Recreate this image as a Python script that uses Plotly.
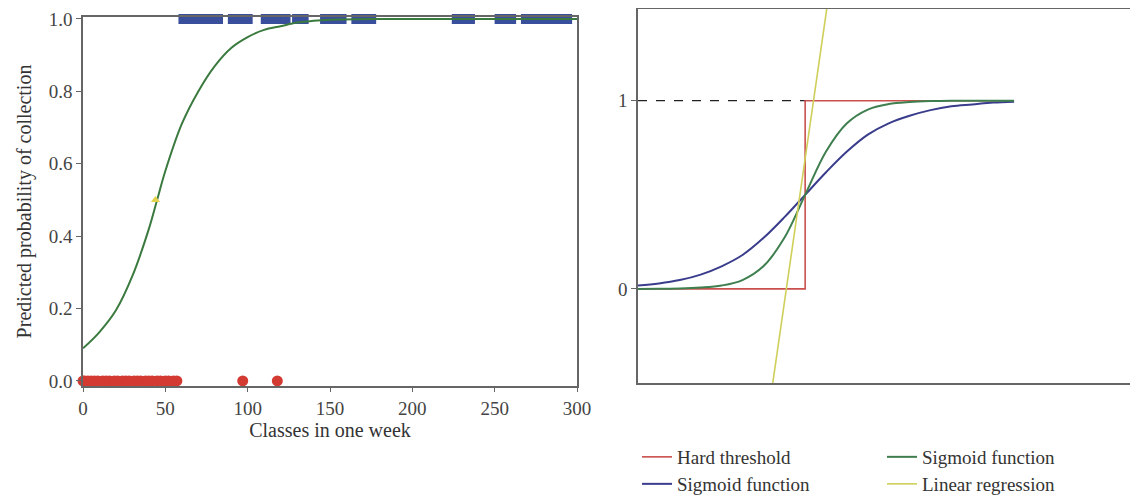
import plotly.graph_objects as go

# ---------------- Left panel data ----------------
curve_x = [0, 10, 20, 30, 40, 45, 50, 60, 70, 80, 90, 100, 110, 120, 130, 140, 150, 175, 200, 250, 300]
curve_y = [0.09, 0.135, 0.195, 0.29, 0.42, 0.50, 0.58, 0.71, 0.80, 0.87, 0.92, 0.95, 0.97, 0.98, 0.99, 0.995, 0.998, 1.0, 1.0, 1.0, 1.0]

collected_x = [61, 64, 67, 70, 73, 76, 79, 82, 91, 94, 97, 100, 111, 114, 117, 120, 123,
               130, 134, 147, 150, 153, 157, 166, 169, 172, 175, 227, 231, 235,
               253, 256, 260, 269, 272, 276, 280, 284, 288, 291, 294]
collected_y = [1.0] * len(collected_x)

missed_x = [0, 1, 3, 5, 7, 9, 12, 14, 16, 19, 21, 24, 26, 28, 31, 33, 35, 38, 40, 42,
            45, 47, 50, 52, 55, 57, 97, 118]
missed_y = [0.0] * len(missed_x)

mid_x = [44]
mid_y = [0.5]

left_xticks = [0, 50, 100, 150, 200, 250, 300]
left_yticks = [0.0, 0.2, 0.4, 0.6, 0.8, 1.0]

# ---------------- Right panel data ----------------
fx = [-8, -7, -6, -5, -4, -3, -2, -1, 0, 1, 2, 3, 4, 5, 6, 7, 8, 9, 10]
sig_wide = [0.018, 0.029, 0.047, 0.076, 0.12, 0.18, 0.27, 0.38, 0.5, 0.62, 0.73, 0.82, 0.88, 0.92, 0.95, 0.97, 0.98, 0.99, 0.995]
sig_steep = [0.0, 0.001, 0.002, 0.007, 0.018, 0.047, 0.12, 0.27, 0.5, 0.73, 0.88, 0.953, 0.982, 0.993, 0.998, 1.0, 1.0, 1.0, 1.0]
hard_x = [-8, 0, 0, 10]
hard_y = [0, 0, 1, 1]
dash_x = [-8, 0]
dash_y = [1, 1]
lin_x = [-1.55, 1.05]
lin_y = [-0.5, 1.5]
right_yticks = [0, 1]

FONT = "Liberation Serif"
C_GREEN = "#3b7a3f"
C_BLUE_SQ = "#3a4f9c"
C_RED = "#d23a32"
C_YEL = "#e3d34a"
C_HARD = "#c9504c"
C_NAVY = "#3a3d8c"
C_GREEN2 = "#3f7f4f"
C_LIN = "#cfcf5a"
AX = "#666666"
TICKFONT = dict(family=FONT, size=19, color="#444444")

fig = go.Figure()

fig.add_trace(go.Scatter(x=collected_x, y=collected_y, mode="markers",
                         marker=dict(symbol="square", size=10, color=C_BLUE_SQ, line=dict(width=0)),
                         cliponaxis=False, showlegend=False, xaxis="x", yaxis="y"))
fig.add_trace(go.Scatter(x=curve_x, y=curve_y, mode="lines",
                         line=dict(color=C_GREEN, width=2, shape="spline"),
                         showlegend=False, xaxis="x", yaxis="y"))
fig.add_trace(go.Scatter(x=missed_x, y=missed_y, mode="markers",
                         marker=dict(symbol="circle", size=11, color=C_RED, line=dict(width=0)),
                         cliponaxis=False, showlegend=False, xaxis="x", yaxis="y"))
fig.add_trace(go.Scatter(x=mid_x, y=mid_y, mode="markers",
                         marker=dict(symbol="triangle-up", size=8, color=C_YEL, line=dict(width=0)),
                         showlegend=False, xaxis="x", yaxis="y"))

# right panel
fig.add_trace(go.Scatter(x=dash_x, y=dash_y, mode="lines",
                         line=dict(color="#222222", width=1.3, dash="dash"),
                         showlegend=False, xaxis="x2", yaxis="y2"))
fig.add_trace(go.Scatter(x=hard_x, y=hard_y, mode="lines", name="Hard threshold",
                         line=dict(color=C_HARD, width=1.6), legend="legend",
                         xaxis="x2", yaxis="y2"))
fig.add_trace(go.Scatter(x=fx, y=sig_wide, mode="lines", name="Sigmoid function",
                         line=dict(color=C_NAVY, width=2, shape="spline"), legend="legend2",
                         xaxis="x2", yaxis="y2"))
fig.add_trace(go.Scatter(x=fx, y=sig_steep, mode="lines", name="Sigmoid function",
                         line=dict(color=C_GREEN2, width=2, shape="spline"), legend="legend3",
                         xaxis="x2", yaxis="y2"))
fig.add_trace(go.Scatter(x=lin_x, y=lin_y, mode="lines", name="Linear regression",
                         line=dict(color=C_LIN, width=1.6), legend="legend4",
                         xaxis="x2", yaxis="y2"))

# page offset of the plot div (default body margin)
OFF = 8
W, H = 1138 - OFF, 497 - OFF
def px_x(p):
    return min(max((p - OFF) / W, 0.0), 1.0)
def px_y(p):
    return min(max(1 - (p - OFF) / H, 0.0), 1.0)

legend_common = dict(font=dict(family=FONT, size=19, color="#333333"),
                     bgcolor="rgba(0,0,0,0)", xanchor="left", yanchor="middle",
                     itemwidth=30)

fig.update_layout(
    template="none",
    width=W, height=H,
    margin=dict(l=0, r=0, t=0, b=0, autoexpand=False),
    paper_bgcolor="white", plot_bgcolor="white",
    font=dict(family=FONT, size=19, color="#444444"),
    xaxis=dict(domain=[px_x(83), px_x(577)], range=[0, 300], tickvals=left_xticks,
               automargin=False,
               showgrid=False, zeroline=False, showline=True, linecolor=AX, linewidth=1.5,
               mirror=True, ticks="outside", ticklen=4, tickcolor=AX,
               tickfont=TICKFONT, ticklabeloverflow="allow",
               title=dict(text="Classes in one week", font=dict(family=FONT, size=20, color="#333333"),
                          standoff=5),
               anchor="y"),
    yaxis=dict(domain=[px_y(386), px_y(17)], range=[-0.014, 1.0055], tickvals=left_yticks,
               automargin=False,
               tickformat=".1f", showgrid=False, zeroline=False, showline=True, linecolor=AX,
               linewidth=1.5, mirror=True, ticks="outside", ticklen=5, tickcolor=AX,
               tickfont=TICKFONT, ticklabeloverflow="allow",
               title=dict(text="Predicted probability of collection",
                          font=dict(family=FONT, size=20, color="#333333"), standoff=12),
               anchor="x"),
    xaxis2=dict(domain=[px_x(638), px_x(1134)], range=[-8, 15.74], showticklabels=False,
                automargin=False,
                ticks="", showgrid=False, zeroline=False, showline=True, linecolor=AX,
                linewidth=1.5, mirror=True, anchor="y2"),
    yaxis2=dict(domain=[px_y(383), px_y(8.5)], range=[-0.5, 1.49], tickvals=right_yticks,
                automargin=False,
                showgrid=False, zeroline=False, showline=True, linecolor=AX, linewidth=1.5,
                mirror=True, ticks="outside", ticklen=5, tickcolor=AX,
                tickfont=TICKFONT, ticklabeloverflow="allow", anchor="x2"),
    legend=dict(x=px_x(637), y=px_y(457), **legend_common),
    legend2=dict(x=px_x(637), y=px_y(484), **legend_common),
    legend3=dict(x=px_x(882), y=px_y(457), **legend_common),
    legend4=dict(x=px_x(882), y=px_y(484), **legend_common),
)

fig.write_html("out.html")
